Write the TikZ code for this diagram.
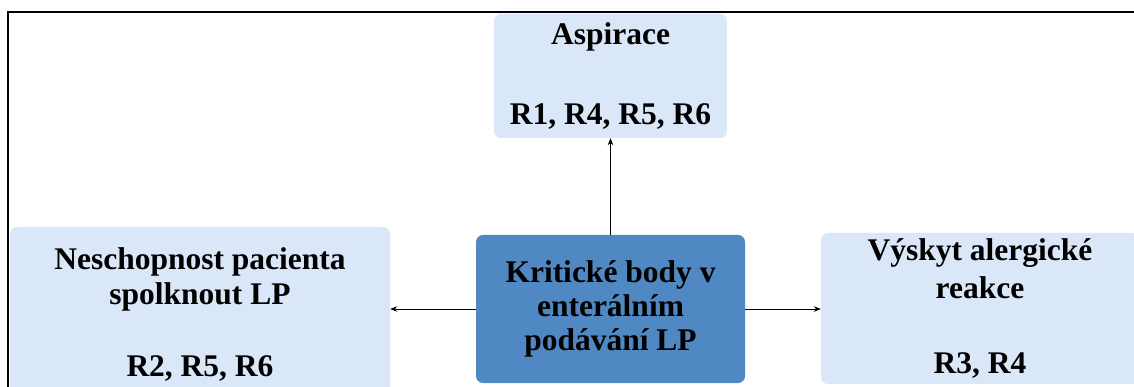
\documentclass[tikz,border=0pt]{standalone}
\usepackage{fontspec}
\setmainfont{Liberation Serif}
\usetikzlibrary{arrows.meta}
\definecolor{lightbox}{RGB}{218,231,249}
\definecolor{darkbox}{RGB}{79,136,195}
\tikzset{
  box/.style={rectangle, rounded corners=7pt, inner sep=0pt, align=center},
  lbox/.style={box, fill=lightbox},
  dbox/.style={box, fill=darkbox},
  conn/.style={line width=0.9pt, -{Stealth[length=7pt,width=5.5pt]}},
}
\begin{document}
\begin{tikzpicture}[x=1pt,y=-1pt]
\clip (0,0) rectangle (1134,387);
\fill[white] (0,0) rectangle (1134,387);
\draw[line width=1.6pt] (8,450) -- (8,12) -- (1200,12);
\node[lbox, minimum width=233pt, minimum height=124pt,
  font=\bfseries\fontsize{31.5}{38.5}\selectfont] (asp) at (610.5,76)
  {Aspirace\\[42pt]R1, R4, R5, R6};
\node[dbox, minimum width=269pt, minimum height=148pt,
  font=\bfseries\fontsize{31.5}{34}\selectfont] (ctr) at (610.5,309)
  {Kritické body v\\enterálním\\podávání LP};
\node[lbox, minimum width=380pt, minimum height=176pt,
  font=\bfseries\fontsize{31.5}{35}\selectfont] (lft) at (200,315)
  {Neschopnost pacienta\\spolknout LP\\[37pt]R2, R5, R6};
\node[lbox, minimum width=318pt, minimum height=151pt,
  font=\bfseries\fontsize{31.5}{37.5}\selectfont] (rgt) at (980,308.5)
  {Výskyt alergické\\reakce\\[38pt]R3, R4};
\draw[conn] (ctr.north) -- (asp.south);
\draw[conn] (ctr.west) -- (ctr.west -| lft.east);
\draw[conn] (ctr.east) -- (ctr.east -| rgt.west);
\end{tikzpicture}
\end{document}
